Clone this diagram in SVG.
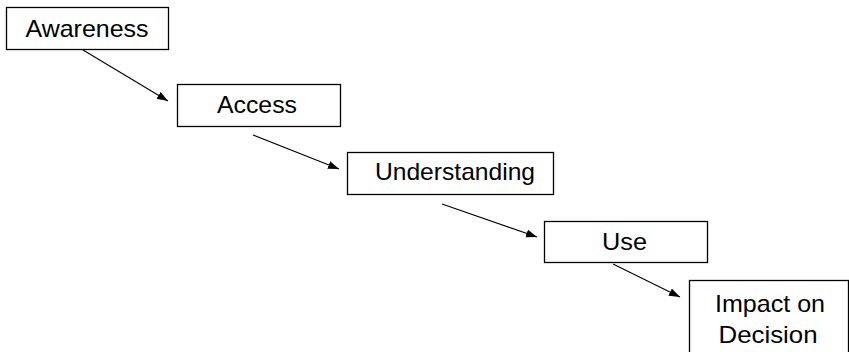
<svg xmlns="http://www.w3.org/2000/svg" width="849" height="352" viewBox="0 0 849 352">
<style>
.box{fill:#fff;stroke:#000;stroke-width:1.3}
.lbl{font-family:"Liberation Sans",Arial,sans-serif;font-size:24px;fill:#000;text-anchor:middle}
.edge{stroke:#000;stroke-width:1.1;fill:none;marker-end:url(#ah)}
</style>
<defs>
<marker id="ah" markerUnits="userSpaceOnUse" markerWidth="12" markerHeight="10" refX="11" refY="4" orient="auto">
<path d="M0,0 L11,4 L0,8 Z" fill="#000"/>
</marker>
</defs>
<rect width="849" height="352" fill="#fff"/>
<g id="connectors">
<line class="edge" x1="83" y1="50" x2="168" y2="101"/>
<line class="edge" x1="253" y1="135" x2="339" y2="169"/>
<line class="edge" x1="442" y1="204" x2="537" y2="237"/>
<line class="edge" x1="613" y1="264" x2="680" y2="297"/>
</g>
<g id="awareness">
<rect class="box" x="6.5" y="7.5" width="162" height="42"/>
<text class="lbl" x="87" y="37" textLength="123" lengthAdjust="spacingAndGlyphs">Awareness</text>
</g>
<g id="access">
<rect class="box" x="177.5" y="84.5" width="163" height="42"/>
<text class="lbl" x="257" y="113" textLength="80" lengthAdjust="spacingAndGlyphs">Access</text>
</g>
<g id="understanding">
<rect class="box" x="347.5" y="152.5" width="206" height="42"/>
<text class="lbl" x="455" y="180" textLength="160" lengthAdjust="spacingAndGlyphs">Understanding</text>
</g>
<g id="use">
<rect class="box" x="544.5" y="221.5" width="163" height="41"/>
<text class="lbl" x="624.5" y="250" textLength="45" lengthAdjust="spacingAndGlyphs">Use</text>
</g>
<g id="impact">
<rect class="box" x="689.5" y="280.5" width="159" height="80"/>
<text class="lbl" x="770" y="312" textLength="110" lengthAdjust="spacingAndGlyphs">Impact on</text>
<text class="lbl" x="768" y="343" textLength="99" lengthAdjust="spacingAndGlyphs">Decision</text>
</g>
</svg>
